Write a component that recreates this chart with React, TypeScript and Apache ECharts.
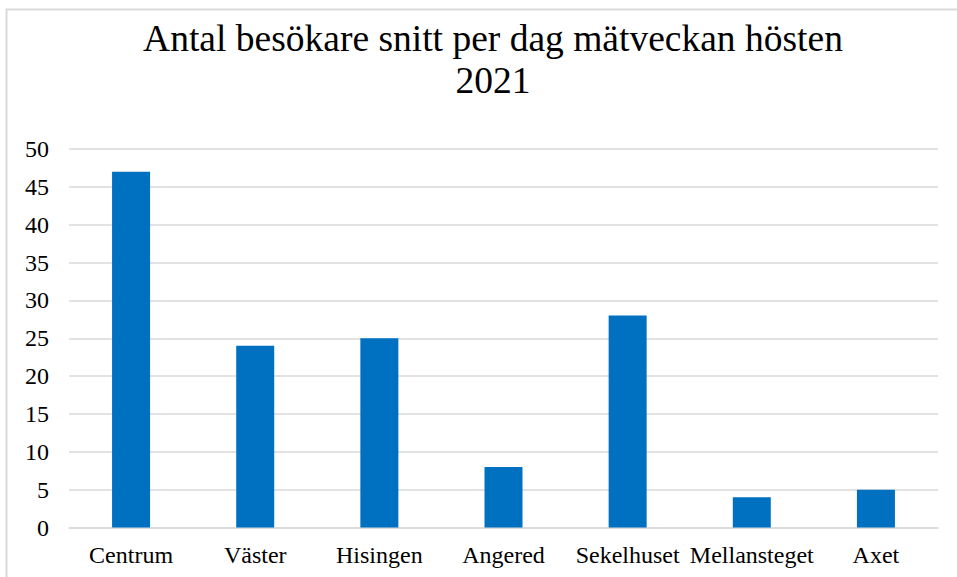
import React, { useEffect, useRef } from "react";
import * as echarts from "echarts";

const categories = ["Centrum", "Väster", "Hisingen", "Angered", "Sekelhuset", "Mellansteget", "Axet"];
const visitors = [47, 24, 25, 8, 28, 4, 5];
const titleText = "Antal besökare snitt per dag mätveckan hösten\n2021";

const FONT = "Liberation Serif";

export default function App() {
  const ref = useRef<HTMLDivElement>(null);
  useEffect(() => {
    if (!ref.current) return;
    const chart = echarts.init(ref.current, undefined, { renderer: "svg" });
    chart.setOption({
      animation: false,
      backgroundColor: "#ffffff",
      textStyle: { fontFamily: FONT },
      title: {
        text: titleText,
        left: 488,
        textAlign: "center",
        top: 12,
        textStyle: {
          fontFamily: FONT,
          fontSize: 37.5,
          fontWeight: "normal",
          color: "#000000",
          lineHeight: 42,
        },
      },
      graphic: [
        {
          type: "rect",
          shape: { x: 6.5, y: 9.5, width: 1000, height: 700 },
          style: { fill: "none", stroke: "#d9d9d9", lineWidth: 2 },
          silent: true,
          z: -1,
        },
      ],
      grid: { left: 69, right: 19, top: 149, bottom: 49.5 },
      xAxis: {
        type: "category",
        data: categories,
        axisLine: { show: true, lineStyle: { color: "#d9d9d9", width: 1.5 } },
        axisTick: { show: false },
        axisLabel: {
          fontFamily: FONT,
          fontSize: 24,
          color: "#000000",
          margin: 15,
          interval: 0,
        },
      },
      yAxis: {
        type: "value",
        min: 0,
        max: 50,
        interval: 5,
        axisLine: { show: false },
        axisTick: { show: false },
        splitLine: { lineStyle: { color: "#d9d9d9", width: 1.5 } },
        axisLabel: {
          fontFamily: FONT,
          fontSize: 24,
          color: "#000000",
          margin: 20,
        },
      },
      series: [
        {
          type: "bar",
          data: visitors,
          barWidth: 38,
          itemStyle: { color: "#0070C0" },
        },
      ],
    });
    return () => chart.dispose();
  }, []);
  return (
    <div
      ref={ref}
      style={{ position: "fixed", left: 0, top: 0, width: 957, height: 577 }}
    />
  );
}
